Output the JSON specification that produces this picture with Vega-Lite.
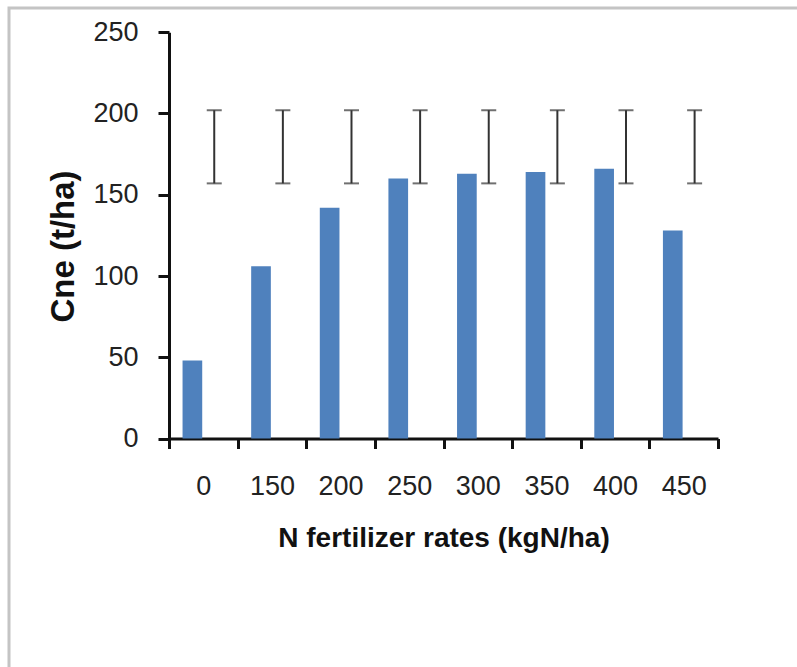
{
  "$schema": "https://vega.github.io/schema/vega-lite/v6.json",
  "autosize": {"type": "none"},
  "padding": {"left": 9, "top": 8, "right": 0, "bottom": 0},
  "width": 800,
  "height": 680,
  "background": "white",
  "config": {
    "view": {"stroke": "#c4c4c4", "strokeWidth": 3},
    "axis": {
      "grid": false,
      "domainColor": "#111111",
      "domainWidth": 3,
      "tickColor": "#111111",
      "tickWidth": 3,
      "labelFont": "Liberation Sans",
      "labelFontSize": 27,
      "labelColor": "#222222",
      "titleFont": "Liberation Sans",
      "titleFontWeight": "bold",
      "titleColor": "#111111"
    }
  },
  "data": {
    "values": [
      {"rate": "0", "cne": 48, "lo": 157, "hi": 202},
      {"rate": "150", "cne": 106, "lo": 157, "hi": 202},
      {"rate": "200", "cne": 142, "lo": 157, "hi": 202},
      {"rate": "250", "cne": 160, "lo": 157, "hi": 202},
      {"rate": "300", "cne": 163, "lo": 157, "hi": 202},
      {"rate": "350", "cne": 164, "lo": 157, "hi": 202},
      {"rate": "400", "cne": 166, "lo": 157, "hi": 202},
      {"rate": "450", "cne": 128, "lo": 157, "hi": 202}
    ]
  },
  "encoding": {
    "x": {
      "field": "rate",
      "type": "ordinal",
      "sort": null,
      "scale": {"range": [160, 709], "paddingInner": 0, "paddingOuter": 0},
      "axis": {
        "title": "N fertilizer rates (kgN/ha)",
        "titleFontSize": 28,
        "titleY": 86,
        "titleBaseline": "top",
        "offset": -249.5,
        "tickBand": "extent",
        "tickSize": 10,
        "labelPadding": 25,
        "labelAngle": 0,
        "labelBaseline": "top"
      }
    },
    "xOffset": {
      "scale": {"domain": ["Cne", "err"], "paddingInner": 0.1, "paddingOuter": 0.62}
    }
  },
  "layer": [
    {
      "mark": {"type": "bar", "color": "#4F81BD"},
      "encoding": {
        "xOffset": {"datum": "Cne"},
        "y": {
          "field": "cne",
          "type": "quantitative",
          "scale": {"domain": [0, 250], "range": [430.5, 24.25], "nice": false},
          "axis": {
            "title": "Cne (t/ha)",
            "titleFontSize": 33,
            "titleAngle": -90,
            "titleX": -106,
            "titleY": 238,
            "titleAlign": "center",
            "titleBaseline": "middle",
            "offset": -160,
            "values": [0, 50, 100, 150, 200, 250],
            "tickSize": 11,
            "labelPadding": 20
          }
        }
      }
    },
    {
      "mark": {"type": "rule", "color": "#333333", "strokeWidth": 2},
      "encoding": {
        "xOffset": {"datum": "err"},
        "y": {"field": "lo", "type": "quantitative"},
        "y2": {"field": "hi"}
      }
    },
    {
      "mark": {"type": "tick", "color": "#333333", "thickness": 2, "size": 15},
      "encoding": {
        "xOffset": {"datum": "err"},
        "y": {"field": "lo", "type": "quantitative"}
      }
    },
    {
      "mark": {"type": "tick", "color": "#333333", "thickness": 2, "size": 15},
      "encoding": {
        "xOffset": {"datum": "err"},
        "y": {"field": "hi", "type": "quantitative"}
      }
    }
  ]
}
